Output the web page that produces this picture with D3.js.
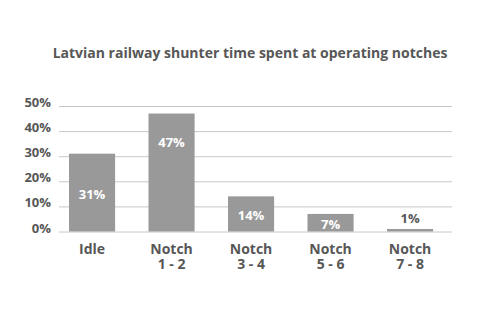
<!DOCTYPE html>
<html>
<head>
<meta charset="utf-8">
<script src="https://cdn.jsdelivr.net/npm/d3@7"></script>
<style>
  html, body { margin: 0; padding: 0; background: #fff; }
  svg { display: block; font-family: "Open Sans", sans-serif; }
</style>
</head>
<body>
<svg id="chart" width="500" height="322"></svg>
<script>
// Share of operating time per notch range
const categories = ["Idle", "Notch\n1 - 2", "Notch\n3 - 4", "Notch\n5 - 6", "Notch\n7 - 8"];
const shares = [31, 47, 14, 7, 1];
const valueLabels = ["31%", "47%", "14%", "7%", "1%"];
const yTicks = [0, 10, 20, 30, 40, 50];
const title = "Latvian railway shunter time spent at operating notches";

// Vertical offset of each value label from the bar top (px, positive = down into the bar)
const labelDrop = [41, 29, 19, 11, -11];

const svg = d3.select("#chart");
const textColor = "#575757";

const x = d3.scaleBand()
  .domain(categories)
  .range([52.3, 449.8])
  .paddingInner(0.42)
  .paddingOuter(0.21);

const y = d3.scaleLinear()
  .domain([0, 50])
  .range([231.5, 106]);

svg.append("text")
  .attr("x", 250)
  .attr("y", 58)
  .attr("text-anchor", "middle")
  .attr("font-size", 14)
  .attr("font-weight", 700)
  .attr("fill", textColor)
  .text(title);

// Gridlines and y labels (labels sit just above their lines)
const yAxis = d3.axisLeft(y)
  .tickValues(yTicks)
  .tickSize(-(452 - 59))
  .tickPadding(8)
  .tickFormat(d => d + "%");

const gy = svg.append("g")
  .attr("transform", "translate(59,0)")
  .call(yAxis);
gy.select(".domain").remove();
gy.selectAll(".tick line").attr("stroke", "#c8c8c8").attr("stroke-width", 1);
gy.selectAll(".tick text")
  .attr("fill", textColor)
  .attr("font-size", 13)
  .attr("font-weight", 700)
  .attr("font-family", "Open Sans, sans-serif")
  .attr("dy", null)
  .attr("y", 0.5);

// Bars
svg.append("g").selectAll("rect")
  .data(shares)
  .join("rect")
  .attr("x", (d, i) => x(categories[i]))
  .attr("width", x.bandwidth())
  .attr("y", d => y(d))
  .attr("height", d => y(0) - y(d))
  .attr("fill", "#999999");

// Value labels
svg.append("g").selectAll("text")
  .data(shares)
  .join("text")
  .attr("x", (d, i) => x(categories[i]) + x.bandwidth() / 2)
  .attr("y", (d, i) => y(d) + labelDrop[i])
  .attr("dy", "0.35em")
  .attr("text-anchor", "middle")
  .attr("font-size", 13)
  .attr("font-weight", 700)
  .attr("fill", (d, i) => labelDrop[i] > 0 ? "#ffffff" : textColor)
  .text((d, i) => valueLabels[i]);

// Category axis labels, one text element per line
const xAxis = d3.axisBottom(x).tickSize(0).tickPadding(0);
const gx = svg.append("g")
  .attr("transform", `translate(0,${y(0)})`)
  .call(xAxis);
gx.select(".domain").remove();
gx.selectAll(".tick").each(function(d) {
  const tick = d3.select(this);
  tick.select("text").remove();
  d.split("\n").forEach((line, k) => {
    tick.append("text")
      .attr("x", 0)
      .attr("y", 22.5 + k * 15)
      .attr("text-anchor", "middle")
      .attr("fill", textColor)
      .attr("font-size", 14)
      .attr("font-weight", 700)
      .attr("font-family", "Open Sans, sans-serif")
      .text(line);
  });
});
</script>
</body>
</html>
